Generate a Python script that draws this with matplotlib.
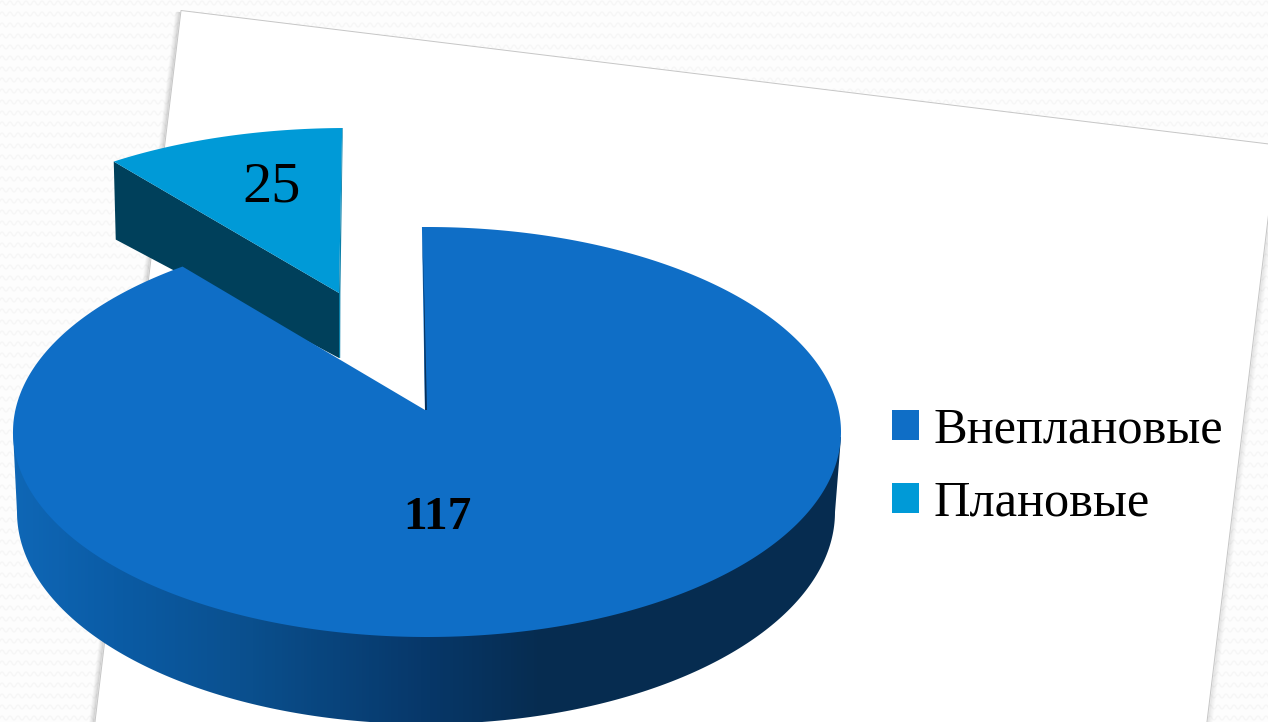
import numpy as np
import matplotlib
matplotlib.use("Agg")
import matplotlib.pyplot as plt
from matplotlib.patches import Polygon, Patch
from matplotlib.colors import LinearSegmentedColormap

# ---- data ----
categories = ["Внеплановые", "Плановые"]
values = [117, 25]
value_labels = ["117", "25"]

# ---- style ----
TOP_BLUE = "#0F6EC6"
TOP_CYAN = "#009AD7"
WALL_CYAN = "#00405B"
NAVY = "#062C50"
FONT = "Liberation Serif"
W, H = 1268, 722
FORESHORTEN = 0.56   # perspective squeeze of the angle seen in the tilted pie
START = -0.7         # degrees clockwise from 12 o'clock

fig = plt.figure(figsize=(W / 100, H / 100), dpi=100, facecolor="#FDFDFD")
ax = fig.add_axes([0, 0, 1, 1])
ax.set_axis_off()


def arc(cx, cy, rx, ry, a0, a1, n=240):
    t = np.radians(np.linspace(a0, a1, n))
    return np.column_stack([cx + rx * np.sin(t), cy - ry * np.cos(t)])


# ---- background texture: pale wavy rows ----
tile = np.array([0.0, -1.4, -2.0, -1.4, 0.0, 1.4, 2.0, 1.4])
bx = np.arange(0, W + 2, 1.0)
wave = np.tile(tile, len(bx) // len(tile) + 1)[: len(bx)]
for row in np.arange(3, H, 11):
    ax.plot(bx, row + wave, color="#F6F6F6", lw=1.0, zorder=0)

# ---- white card with soft shadow ----
card = [(181, 10.5), (1277, 145), (1206, 730), (94, 730)]
for off, a in [(5, 0.03), (4, 0.05), (3, 0.07), (2, 0.10), (1, 0.14)]:
    ax.plot([181 - off, 94 - off], [12, 730], color="k", alpha=a * 0.7,
            lw=1.4, zorder=1, solid_capstyle="butt")
    ax.plot([1277 + off, 1206 + off], [145, 730], color="k", alpha=a * 0.4,
            lw=1.4, zorder=1, solid_capstyle="butt")
ax.add_patch(Polygon(card, closed=True, fc="white", ec="#C6C6C6", lw=0.7, zorder=2))

# ---- angles from the values ----
shares = np.array(values, dtype=float) / np.sum(values)
small_sweep = shares[1] * 360 * FORESHORTEN
boundary = START - small_sweep

# ---- small exploded slice ----
slice_arc = arc(347, 302, 395, 174, boundary, START)
apex_s = np.array([339, 293])
wall_drop = 65
left_corner = slice_arc[0]
wall = [tuple(left_corner), tuple(apex_s), (apex_s[0], apex_s[1] + wall_drop),
        (left_corner[0] + 2, left_corner[1] + 78)]
ax.add_patch(Polygon(wall, closed=True, fc=WALL_CYAN, ec="none", zorder=3))
ax.add_patch(Polygon(np.vstack([slice_arc, apex_s]), closed=True, fc=TOP_CYAN,
                     ec="none", zorder=4))
ax.add_patch(Polygon([tuple(slice_arc[-1]), (slice_arc[-1][0] + 0.6, slice_arc[-1][1]),
                      (apex_s[0] + 1.4, apex_s[1]), (apex_s[0] + 1.2, apex_s[1] + wall_drop),
                      (apex_s[0], apex_s[1] + wall_drop), tuple(apex_s)],
                     closed=True, fc="#0A7FA8", ec="none", zorder=4))

# ---- outer side of the big slice (gradient) ----
stops = [(0.0, "#0F67B6"), (0.118, "#0B5CA6"), (0.287, "#0A4F8D"),
         (0.493, "#07386A"), (0.64, NAVY), (1.0, NAVY)]
side_cmap = LinearSegmentedColormap.from_list("side", stops)
grad = np.linspace(0, 1, 828).reshape(1, -1)
im = ax.imshow(grad, cmap=side_cmap, extent=[13, 841, 730, 400], aspect="auto", zorder=5)
lower = arc(426, 512, 409, 212, 270, 90)
side_outline = np.vstack([[(13, 432)], lower, [(841, 437)]])
side_patch = Polygon(side_outline, closed=True, transform=ax.transData, fc="none", ec="none")
ax.add_patch(side_patch)
im.set_clip_path(side_patch)

# ---- top face of the big slice ----
apex_m = np.array([425, 410])
main_arc = arc(427, 432, 414, 205, START, boundary + 360, 600)
ax.add_patch(Polygon(np.vstack([main_arc, apex_m]), closed=True, fc=TOP_BLUE,
                     ec="none", zorder=6))
# thin inner wall seen along the cut
ax.add_patch(Polygon([(422.2, 232), (423.8, 300), (425, 410), (427, 410), (424.4, 300)],
                     closed=True, fc="#07305A", ec="none", zorder=7))

# ---- value labels ----
ax.text(271.5, 188, value_labels[1], fontfamily=FONT, fontsize=42, color="black",
        ha="center", va="center", zorder=8)
ax.text(437.5, 518, value_labels[0], fontfamily=FONT, fontsize=34, fontweight="bold",
        color="black", ha="center", va="center", zorder=8)

# ---- legend ----
handles = [Patch(fc=TOP_BLUE, ec="none"), Patch(fc=TOP_CYAN, ec="none")]
leg = ax.legend(handles, categories, loc="upper left", bbox_to_anchor=(892, 407),
                bbox_transform=ax.transData, frameon=False, borderpad=0, borderaxespad=0,
                prop={"family": FONT, "size": 36.4}, handlelength=0.533, handleheight=0.533,
                handletextpad=0.28, labelspacing=0.53)
leg.set_zorder(9)

ax.set_xlim(0, W)
ax.set_ylim(H, 0)
fig.savefig("out.png", dpi=100)
